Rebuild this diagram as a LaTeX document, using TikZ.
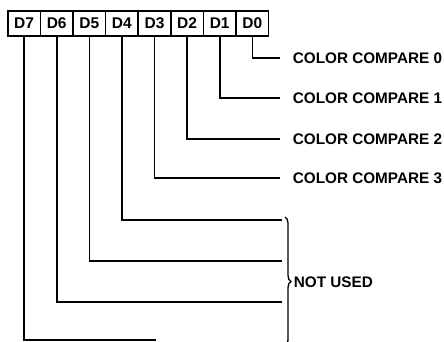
\documentclass[tikz,border=0pt]{standalone}
\usepackage{fontspec}
\setmainfont{Liberation Sans}
\usetikzlibrary{decorations.pathreplacing}
\begin{document}
\begin{tikzpicture}[x=1pt,y=-1pt, line width=1.6pt,
  bit/.style={draw, line width=1.6pt, minimum width=32.6pt, minimum height=25pt, inner sep=0pt,
    font=\fontsize{15.5}{15}\selectfont\bfseries, anchor=north west},
  lab/.style={anchor=west, inner sep=0pt, font=\fontsize{15.3}{15}\selectfont\bfseries},
  wire/.style={line width=1.6pt}]
\useasboundingbox (0,0) rectangle (444,342);
\foreach \i in {0,...,7} {
  \node[bit] (b\i) at ({7+32.6*(7-\i)},10) {D\i};
}
% labels
\node[lab] (l0) at (292,58) {COLOR COMPARE 0};
\node[lab] (l1) at (292,98) {COLOR COMPARE 1};
\node[lab] (l2) at (292,139) {COLOR COMPARE 2};
\node[lab] (l3) at (292,178) {COLOR COMPARE 3};
\node[lab] (nu) at (293,282) {NOT USED};
% wire ends
\coordinate (e0) at (280,58);
\coordinate (e1) at (280,98);
\coordinate (e2) at (280,139);
\coordinate (e3) at (280,178);
\coordinate (e4) at (282,220);
\coordinate (e5) at (282,261);
\coordinate (e6) at (282,302);
\coordinate (e7) at (156,340);
\foreach \i in {0,...,7} {
  \draw[wire] (b\i.south) |- (e\i);
}
% brace
\coordinate (bt) at (285,217);
\coordinate (bb) at (285,346);
\draw[line width=1.3pt, decorate, decoration={brace, amplitude=6pt}] (bt) -- (bb);
\end{tikzpicture}
\end{document}
